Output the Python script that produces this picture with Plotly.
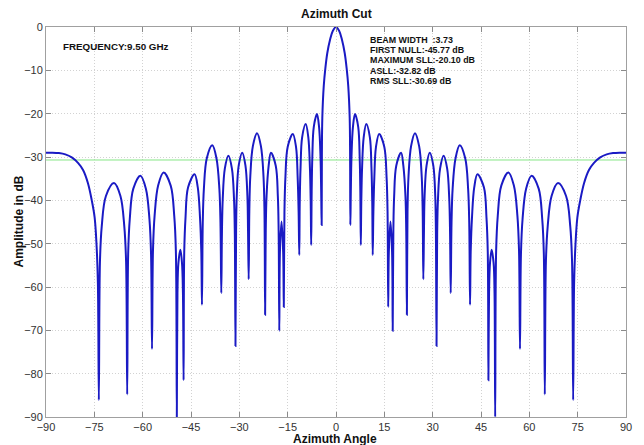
import plotly.graph_objects as go

# Azimuth cut of the array pattern, sampled along the curve (deg, dB)
azimuth_left = [
    -90.0, -88.0, -86.0, -84.0, -82.0, -80.0, -78.5, -77.0, -75.8, -74.9, -74.3, -73.9, -73.6,
    -73.25, -72.7, -71.4, -68.9, -66.9, -65.7, -65.15, -64.8,
    -64.5, -64.0, -62.9, -60.7, -59.0, -57.9, -57.4, -57.1,
    -56.8, -56.3, -55.2, -53.5, -51.3, -50.2, -49.7, -49.4,
    -49.2, -48.9, -48.3, -47.8, -47.5, -47.3,
    -47.1, -46.7, -45.9, -43.9, -42.9, -42.2, -41.8, -41.6,
    -41.35, -41.0, -40.1, -38.4, -37.1, -36.2, -35.85, -35.6,
    -35.4, -35.15, -34.5, -33.4, -32.3, -31.65, -31.4, -31.2,
    -31.0, -30.8, -30.2, -29.1, -28.1, -27.5, -27.3, -27.1,
    -26.9, -26.6, -25.8, -24.5, -23.3, -22.5, -22.2, -22.0,
    -21.8, -21.55, -20.9, -20.2, -18.7, -18.05, -17.8, -17.6,
    -17.4, -16.9, -16.4, -16.2,
    -16.0, -15.7, -15.0, -13.4, -12.4, -11.9, -11.6, -11.4,
    -11.25, -11.0, -10.5, -9.4, -8.6, -8.1, -7.85, -7.7,
    -7.55, -7.35, -6.9, -5.9, -5.25, -4.8, -4.6, -4.45,
    -4.38, -4.25, -3.8, -3.3, -2.7, -1.87, -1.0, 0.0,
]
amplitude_left = [
    -29.0, -29.0, -29.1, -29.4, -30.1, -31.4, -33.0, -36.0, -40.0, -44.0, -50.5, -59.0, -86.1,
    -54.0, -46.0, -39.0, -36.0, -39.0, -46.0, -54.0, -84.8,
    -52.3, -44.3, -37.3, -34.3, -37.3, -44.3, -52.3, -74.3,
    -51.6, -43.6, -36.6, -33.6, -36.6, -43.6, -51.6, -90.0,
    -61.4, -54.4, -51.4, -54.4, -61.4, -81.5,
    -52.0, -44.0, -37.0, -34.0, -37.0, -44.0, -52.0, -64.1,
    -45.3, -37.3, -30.3, -27.3, -30.3, -37.3, -45.3, -61.4,
    -47.7, -39.7, -32.7, -29.7, -32.7, -39.7, -47.7, -73.6,
    -47.0, -39.0, -32.0, -29.0, -32.0, -39.0, -47.0, -58.2,
    -42.5, -34.5, -27.5, -24.5, -27.5, -34.5, -42.5, -66.4,
    -47.0, -39.0, -32.0, -29.0, -32.0, -39.0, -47.0, -70.1,
    -52.0, -44.9, -52.0, -64.6,
    -42.7, -34.7, -27.7, -24.7, -27.7, -34.7, -42.7, -52.6,
    -40.4, -32.4, -25.4, -22.4, -25.4, -32.4, -40.4, -50.3,
    -38.1, -30.1, -23.1, -20.1, -23.1, -30.1, -38.1, -45.7,
    -30.0, -21.0, -13.6, -9.5, -6.0, -3.0, -0.9, 0.0,
]
azimuth_right = [
    1.0, 1.87, 2.7, 3.3, 3.8, 4.25, 4.38, 4.45,
    4.6, 4.8, 5.25, 5.9, 6.9, 7.35, 7.55, 7.7,
    7.85, 8.1, 8.6, 9.4, 10.5, 11.0, 11.25, 11.4,
    11.6, 11.9, 12.4, 13.4, 15.0, 15.7, 16.0, 16.2,
    16.4, 16.9, 17.4, 17.6,
    17.8, 18.05, 18.7, 20.2, 20.9, 21.55, 21.8, 22.0,
    22.2, 22.5, 23.3, 24.5, 25.8, 26.6, 26.9, 27.1,
    27.3, 27.5, 28.1, 29.1, 30.2, 30.8, 31.0, 31.2,
    31.4, 31.65, 32.3, 33.4, 34.5, 35.15, 35.4, 35.6,
    35.85, 36.2, 37.1, 38.4, 40.1, 41.0, 41.35, 41.6,
    41.8, 42.2, 42.9, 43.9, 45.9, 46.7, 47.1, 47.3,
    47.5, 47.8, 48.3, 48.9, 49.2, 49.4,
    49.7, 50.2, 51.3, 53.5, 55.2, 56.3, 56.8, 57.1,
    57.4, 57.9, 59.0, 60.7, 62.9, 64.0, 64.5, 64.8,
    65.15, 65.7, 66.9, 68.9, 71.4, 72.7, 73.25, 73.6,
    73.9, 74.3, 74.9, 75.8, 77.0, 78.5, 80.0, 82.0, 84.0, 86.0, 88.0, 90.0,
]
amplitude_right = [
    -0.9, -3.0, -6.0, -9.5, -13.6, -21.0, -30.0, -45.7,
    -38.1, -30.1, -23.1, -20.1, -23.1, -30.1, -38.1, -50.3,
    -40.4, -32.4, -25.4, -22.4, -25.4, -32.4, -40.4, -52.6,
    -42.7, -34.7, -27.7, -24.7, -27.7, -34.7, -42.7, -64.6,
    -52.0, -44.9, -52.0, -70.1,
    -47.0, -39.0, -32.0, -29.0, -32.0, -39.0, -47.0, -66.4,
    -42.5, -34.5, -27.5, -24.5, -27.5, -34.5, -42.5, -58.2,
    -47.0, -39.0, -32.0, -29.0, -32.0, -39.0, -47.0, -73.6,
    -47.7, -39.7, -32.7, -29.7, -32.7, -39.7, -47.7, -61.4,
    -45.3, -37.3, -30.3, -27.3, -30.3, -37.3, -45.3, -64.1,
    -52.0, -44.0, -37.0, -34.0, -37.0, -44.0, -52.0, -81.5,
    -61.4, -54.4, -51.4, -54.4, -61.4, -90.0,
    -51.6, -43.6, -36.6, -33.6, -36.6, -43.6, -51.6, -74.3,
    -52.3, -44.3, -37.3, -34.3, -37.3, -44.3, -52.3, -84.8,
    -54.0, -46.0, -39.0, -36.0, -39.0, -46.0, -54.0, -86.1,
    -59.0, -50.5, -44.0, -40.0, -36.0, -33.0, -31.4, -30.1, -29.4, -29.1, -29.0, -29.0,
]

# Pattern statistics
frequency_ghz = 9.50
beam_width = 3.73
first_null_db = -45.77
max_sll_db = -20.10
asll_db = -32.82
rms_sll_db = -30.69

x_ticks = [-90, -75, -60, -45, -30, -15, 0, 15, 30, 45, 60, 75, 90]
y_ticks = [-90, -80, -70, -60, -50, -40, -30, -20, -10, 0]

azimuth = azimuth_left + azimuth_right
amplitude = amplitude_left + amplitude_right

FONT = "Liberation Sans, Arial, sans-serif"

fig = go.Figure()

# RMS side-lobe level reference line
fig.add_trace(go.Scatter(
    x=[x_ticks[0], x_ticks[-1]], y=[rms_sll_db, rms_sll_db],
    mode="lines", line=dict(color="#86e686", width=1),
    hoverinfo="skip", showlegend=False,
))

fig.add_trace(go.Scatter(
    x=azimuth, y=amplitude, mode="lines",
    line=dict(color="#1a1ac4", width=2, shape="spline", smoothing=1.0),
    showlegend=False,
))

axis_common = dict(
    showgrid=True, gridcolor="#d2d2d2", griddash="1px,2px", gridwidth=1,
    showline=True, linecolor="#a0a0a0", linewidth=1, mirror="ticks",
    ticks="inside", ticklen=5, tickcolor="#8a8a8a", zeroline=False,
    tickfont=dict(family=FONT, size=11, color="#333333"),
)

fig.update_xaxes(range=[-90, 90], tickvals=x_ticks, **axis_common)
fig.update_yaxes(range=[-90, 0], tickvals=y_ticks, **axis_common)

PX_L, PX_R, PX_T, PX_B = 45.7, 627.0, 27.3, 419.0


def px_to_paper(px, py):
    return (px - PX_L) / (PX_R - PX_L), (PX_B - py) / (PX_B - PX_T)


annotations = []

# Title and axis titles
tx, ty = px_to_paper(336.5, 14)
annotations.append(dict(text="<b>Azimuth Cut</b>", x=tx, y=ty, xanchor="center", yanchor="middle",
                        font=dict(family=FONT, size=12, color="#111111")))
tx, ty = px_to_paper(335, 441.5)
annotations.append(dict(text="<b>Azimuth Angle</b>", x=tx, y=ty, xanchor="center", yanchor="middle",
                        borderpad=0, font=dict(family=FONT, size=12, color="#111111")))
tx, ty = px_to_paper(18.3, 223)
annotations.append(dict(text="<b>Amplitude in dB</b>", x=tx, y=ty, xanchor="center", yanchor="middle",
                        textangle=-90, font=dict(family=FONT, size=12, color="#111111")))

# Frequency label
tx, ty = px_to_paper(60.5, 46.7)
annotations.append(dict(text=f"<b>FREQUENCY:{frequency_ghz:.2f} GHz</b>", x=tx, y=ty,
                        xanchor="left", yanchor="middle",
                        font=dict(family=FONT, size=9.8, color="#111111")))

# Statistics block
stats_lines = [
    f"BEAM WIDTH \u00a0:{beam_width:.2f}",
    f"FIRST NULL:{first_null_db:.2f} dB",
    f"MAXIMUM SLL:{max_sll_db:.2f} dB",
    f"ASLL:{asll_db:.2f} dB",
    f"RMS SLL:{rms_sll_db:.2f} dB",
]
for i, line in enumerate(stats_lines):
    tx, ty = px_to_paper(368, 40.7 + 10.1 * i)
    annotations.append(dict(text=f"<b>{line}</b>", x=tx, y=ty, xanchor="left", yanchor="middle",
                            font=dict(family=FONT, size=8.9, color="#111111")))

for a in annotations:
    a.update(xref="paper", yref="paper", showarrow=False)

fig.update_layout(
    width=644, height=445,
    margin=dict(l=PX_L, r=644 - PX_R, t=PX_T, b=445 - PX_B),
    paper_bgcolor="white", plot_bgcolor="white",
    annotations=annotations,
)

fig.write_html("out.html")
